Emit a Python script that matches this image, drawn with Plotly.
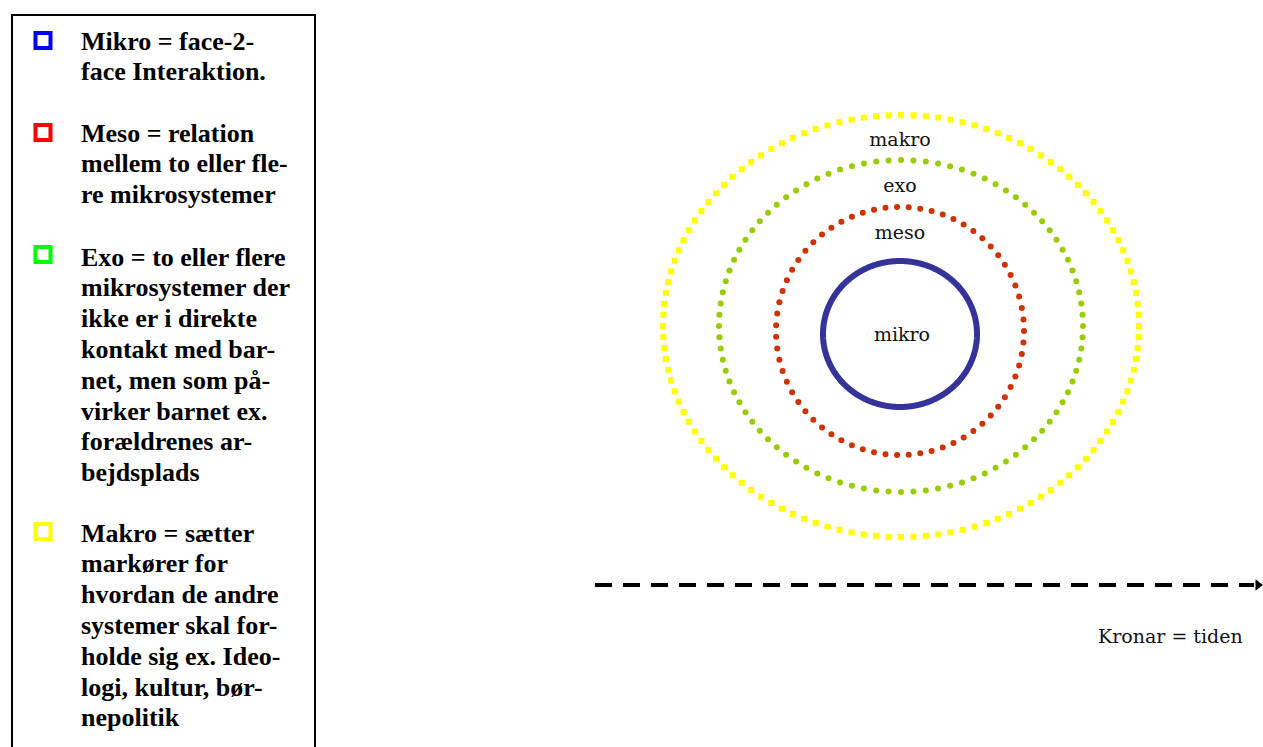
import numpy as np
import plotly.graph_objects as go

# ---- data -------------------------------------------------------------
ring_names = ["makro", "exo", "meso", "mikro"]
ring_rx = [238, 182, 124, 77]
ring_ry = [211, 166, 124, 73]
ring_cx = [901, 901, 900, 900]
ring_cy = [326, 326, 331, 334]
ring_colors = ["#ffff00", "#99cc00", "#cc3300", "#333399"]
ring_dots = [120, 92, 67, 0]          # 0 -> solid line
ring_symbols = ["square", "circle", "circle", None]
label_x = [900, 900, 900, 902]
label_y = [141, 187, 234, 336]

timeline_x = [595, 1254]
timeline_y = 585
timeline_label = "Kronar = tiden"

legend_colors = ["#0000ff", "#ff0000", "#00ff00", "#ffff00"]
legend_first_y = [41, 133, 257, 533]
legend_lines = [
    ["Mikro = face-2-", "face Interaktion."],
    ["Meso = relation", "mellem to eller fle-", "re mikrosystemer"],
    ["Exo = to eller flere", "mikrosystemer der", "ikke er i direkte",
     "kontakt med bar-", "net, men som på-", "virker barnet ex.",
     "forældrenes ar-", "bejdsplads"],
    ["Makro = sætter", "markører for", "hvordan de andre",
     "systemer skal for-", "holde sig ex. Ideo-", "logi, kultur, bør-",
     "nepolitik"],
]
line_step = 30.8

W, H = 1263, 747
fig = go.Figure()

# rings
for name, rx, ry, cx, cy, col, n, sym in zip(ring_names, ring_rx, ring_ry, ring_cx,
                                              ring_cy, ring_colors, ring_dots, ring_symbols):
    if n:
        t = np.linspace(0, 2 * np.pi, n, endpoint=False)
        fig.add_trace(go.Scatter(x=cx + rx * np.cos(t), y=cy + ry * np.sin(t), mode="markers",
                                 marker=dict(symbol=sym, size=6, color=col, line=dict(width=0)),
                                 hoverinfo="skip", showlegend=False))
    else:
        t = np.linspace(0, 2 * np.pi, 721)
        fig.add_trace(go.Scatter(x=cx + rx * np.cos(t), y=cy + ry * np.sin(t), mode="lines",
                                 line=dict(color=col, width=6, simplify=False),
                                 hoverinfo="skip", showlegend=False))

fig.add_trace(go.Scatter(x=label_x, y=label_y, text=ring_names, mode="text",
                         textfont=dict(family="DejaVu Serif", size=19, color="#111111"),
                         hoverinfo="skip", showlegend=False))

# timeline arrow
fig.add_trace(go.Scatter(x=timeline_x, y=[timeline_y, timeline_y], mode="lines",
                         line=dict(color="black", width=4, dash="17px,11px"),
                         hoverinfo="skip", showlegend=False))
fig.add_trace(go.Scatter(x=[timeline_x[1] + 4], y=[timeline_y], mode="markers",
                         marker=dict(symbol="triangle-right", size=10, color="black"),
                         hoverinfo="skip", showlegend=False))
fig.add_annotation(x=1170, y=636, text=timeline_label, showarrow=False,
                   font=dict(family="DejaVu Serif", size=19, color="#111111"))

# legend box
fig.add_shape(type="rect", x0=12, x1=315, y0=15, y1=760,
              line=dict(color="black", width=2), fillcolor="rgba(0,0,0,0)")

fig.add_trace(go.Scatter(x=[43] * 4, y=[40.5, 132.5, 254.5, 531.5], mode="markers",
                         marker=dict(symbol="square-open", size=15, color=legend_colors,
                                     line=dict(width=4)),
                         hoverinfo="skip", showlegend=False))

for y0, lines in zip(legend_first_y, legend_lines):
    for i, ln in enumerate(lines):
        fig.add_annotation(x=79, y=y0 + i * line_step, text="<b>%s</b>" % ln, showarrow=False,
                           xanchor="left", yanchor="middle",
                           font=dict(family="Liberation Serif", size=26, color="black"))

fig.update_layout(width=W, height=H, margin=dict(l=0, r=0, t=0, b=0),
                  paper_bgcolor="white", plot_bgcolor="white",
                  xaxis=dict(range=[0, W], visible=False, fixedrange=True),
                  yaxis=dict(range=[H, 0], visible=False, fixedrange=True))

fig.write_html("out.html", config={"displayModeBar": False},
               post_script="document.body.style.margin='0';document.body.style.overflow='hidden';")
